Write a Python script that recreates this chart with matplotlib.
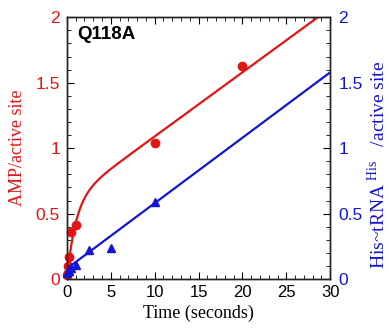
import numpy as np
import matplotlib
matplotlib.use("Agg")
import matplotlib.pyplot as plt
from matplotlib.ticker import MultipleLocator

plt.rcParams['mathtext.fontset'] = 'custom'
plt.rcParams['mathtext.rm'] = 'Liberation Serif'

# AMP formation (left axis)
amp_time = [0.05, 0.1, 0.15, 0.2, 0.5, 1.0, 10, 20]
amp_value = [0.03, 0.05, 0.10, 0.17, 0.36, 0.41, 1.04, 1.63]

# His~tRNA(His) formation (right axis)
trna_time = [0.05, 0.25, 0.5, 1.0, 2.5, 5, 10]
trna_value = [0.05, 0.065, 0.085, 0.11, 0.22, 0.24, 0.59]

# burst + steady-state fit for AMP, linear fit for His~tRNA
amp_burst, amp_k, amp_rate = 0.60, 1.0, 0.049
trna_offset, trna_rate = 0.08, 0.050

x_ticks = [0, 5, 10, 15, 20, 25, 30]
y_ticks = [0, 0.5, 1, 1.5, 2]
y_ticklabels = ['0', '0.5', '1', '1.5', '2']

RED = '#e41414'
BLUE = '#1414d4'

fig = plt.figure(figsize=(3.89, 3.33), dpi=100)
ax = fig.add_axes([0.172, 0.162, 0.677, 0.786])
ax2 = ax.twinx()

t = np.linspace(0, 30, 600)
amp_fit = amp_burst * (1 - np.exp(-amp_k * t)) + amp_rate * t
trna_fit = trna_offset + trna_rate * t

ax.plot(t, amp_fit, color=RED, lw=1.6, zorder=3)
ax.plot(amp_time, amp_value, 'o', color=RED, ms=6, zorder=4, clip_on=False)
ax2.plot(t, trna_fit, color=BLUE, lw=1.6, zorder=3)
ax2.plot(trna_time, trna_value, '^', color=BLUE, ms=5.5, zorder=4, clip_on=False)

for a in (ax, ax2):
    a.set_xlim(0, 30)
    a.set_ylim(0, 2)
    a.set_yticks(y_ticks)
    a.set_yticklabels(y_ticklabels)
    a.yaxis.set_minor_locator(MultipleLocator(0.1))
    for s in a.spines.values():
        s.set_linewidth(1.0)
        s.set_color('#222222')

ax.set_xticks(x_ticks)
ax.xaxis.set_minor_locator(MultipleLocator(1))
ax.tick_params(axis='x', which='both', direction='in', top=True, labelsize=12,
               labelcolor='black', pad=4)
ax.tick_params(axis='x', which='major', length=5)
ax.tick_params(axis='x', which='minor', length=3)
ax.tick_params(axis='y', which='both', direction='in', labelsize=12.5,
               labelcolor=RED, pad=5)
ax.tick_params(axis='y', which='major', length=5)
ax.tick_params(axis='y', which='minor', length=3)
ax2.tick_params(axis='y', which='both', direction='in', labelsize=12.5,
                labelcolor=BLUE, pad=6)
ax2.tick_params(axis='y', which='major', length=5)
ax2.tick_params(axis='y', which='minor', length=3)

for lab in ax.get_xticklabels() + ax.get_yticklabels() + ax2.get_yticklabels():
    lab.set_fontfamily('Liberation Sans')

ax.set_xlabel('Time (seconds)', fontfamily='Liberation Serif', fontsize=13,
              labelpad=4)
ax.set_ylabel('AMP/active site', fontfamily='Liberation Serif', fontsize=13,
              color=RED, labelpad=7)
fig.text(0.972, 0.505, r'His~tRNA$^{\,\,\rm His}$   /active site', rotation=90,
         ha='center', va='center', fontfamily='Liberation Serif',
         fontsize=14, color=BLUE)

ax.text(0.04, 0.965, 'Q118A', transform=ax.transAxes, ha='left', va='top',
        fontfamily='Liberation Sans', fontweight='bold', fontsize=13.5)

fig.savefig('out.png', dpi=100)
